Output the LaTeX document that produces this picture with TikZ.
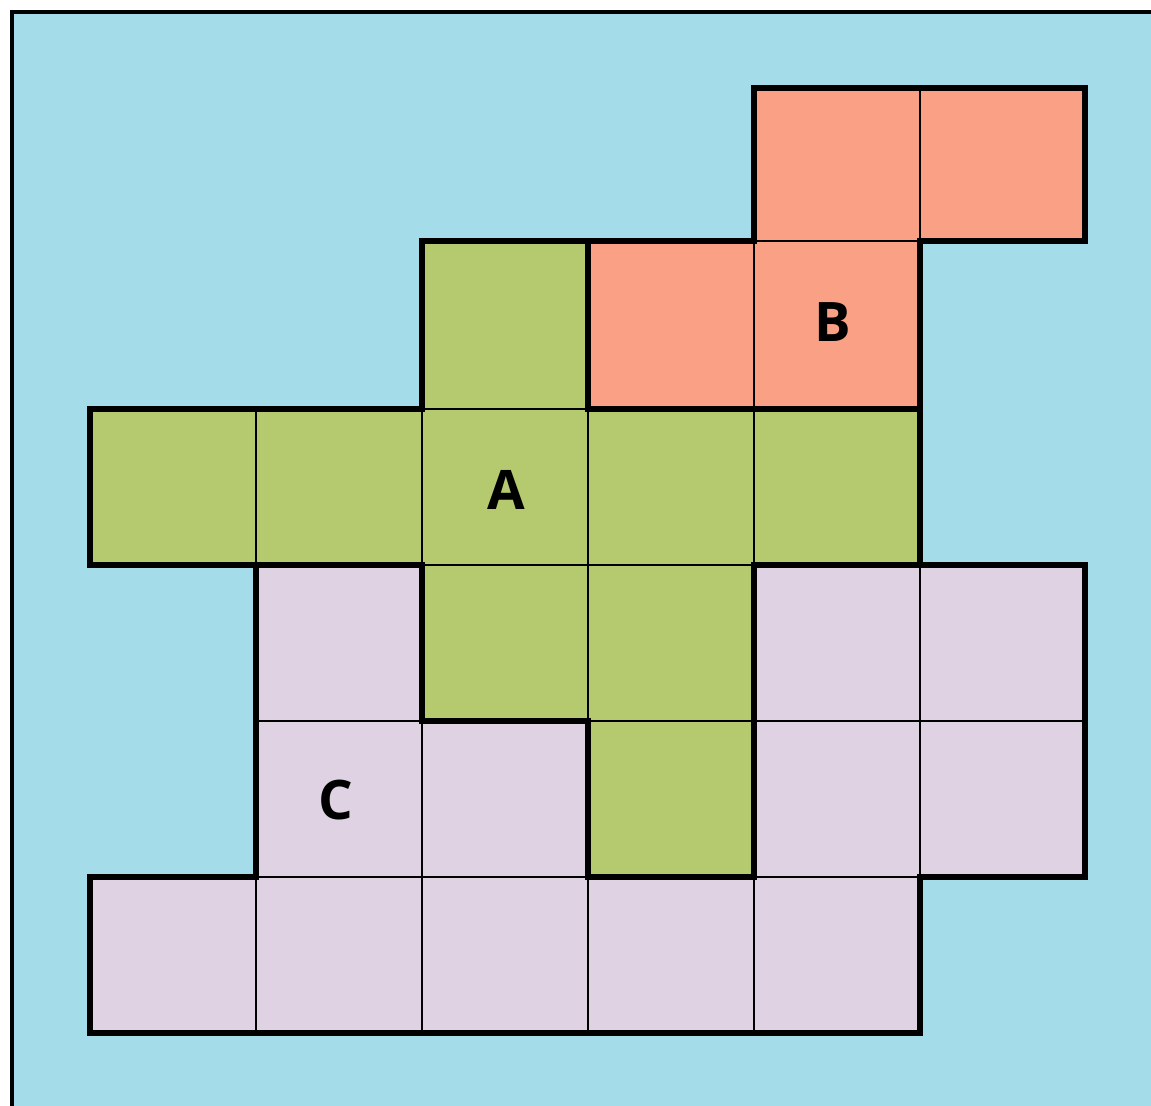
\documentclass[tikz,border=0pt]{standalone}
\usepackage{fontspec}
\setmainfont{Open Sans}
\definecolor{seablue}{HTML}{A4DCE9}
\definecolor{tileorange}{HTML}{F9A085}
\definecolor{tilegreen}{HTML}{B5C96F}
\definecolor{tilelilac}{HTML}{DFD2E3}
\tikzset{
  cellline/.style={line width=0.6pt},
  region/.style={line width=1.7pt, line join=miter},
  tag/.style={font=\fontsize{15.5}{16}\selectfont\bfseries, inner sep=0pt}
}
\begin{document}
\begin{tikzpicture}[x=0.01cm, y=-0.01cm]
    \useasboundingbox (0,0) rectangle (1151,1106);
    \fill[white] (0,0) rectangle (1151,1106);
    \fill[seablue] (12,12) rectangle (1151,1106);
    \draw[line width=1.3pt] (12,1106) -- (12,12) -- (1151,12);

    % single tiles, column/row index
    \foreach \c/\r/\col in {4/0/tileorange, 5/0/tileorange, 3/1/tileorange, 4/1/tileorange,
        2/1/tilegreen, 0/2/tilegreen, 1/2/tilegreen, 2/2/tilegreen, 3/2/tilegreen, 4/2/tilegreen,
        2/3/tilegreen, 3/3/tilegreen, 3/4/tilegreen,
        1/3/tilelilac, 4/3/tilelilac, 5/3/tilelilac, 1/4/tilelilac, 2/4/tilelilac, 4/4/tilelilac,
        5/4/tilelilac, 0/5/tilelilac, 1/5/tilelilac, 2/5/tilelilac, 3/5/tilelilac, 4/5/tilelilac} {
        \pgfmathsetmacro\xa{{90,256,422,588,754,920,1085}[\c]}
        \pgfmathsetmacro\xb{{90,256,422,588,754,920,1085}[\c+1]}
        \pgfmathsetmacro\ya{{88,241,409,565,721,877,1033}[\r]}
        \pgfmathsetmacro\yb{{88,241,409,565,721,877,1033}[\r+1]}
        \filldraw[fill=\col, cellline] (\xa,\ya) rectangle (\xb,\yb);
    }

    % region outlines
    \draw[region] (754,88) -- (1085,88) -- (1085,241) -- (920,241) -- (920,409)
        -- (588,409) -- (588,241) -- (754,241) -- cycle;
    \draw[region] (422,241) -- (588,241) -- (588,409) -- (920,409) -- (920,565)
        -- (754,565) -- (754,877) -- (588,877) -- (588,721) -- (422,721) -- (422,565)
        -- (90,565) -- (90,409) -- (422,409) -- cycle;
    \draw[region] (256,565) -- (422,565) -- (422,721) -- (588,721) -- (588,877)
        -- (754,877) -- (754,565) -- (1085,565) -- (1085,877) -- (920,877) -- (920,1033)
        -- (90,1033) -- (90,877) -- (256,877) -- cycle;

    \node[tag] (tagA) at (506,490) {A};
    \node[tag] (tagB) at (833,322) {B};
    \node[tag] (tagC) at (336,800) {C};
\end{tikzpicture}
\end{document}
